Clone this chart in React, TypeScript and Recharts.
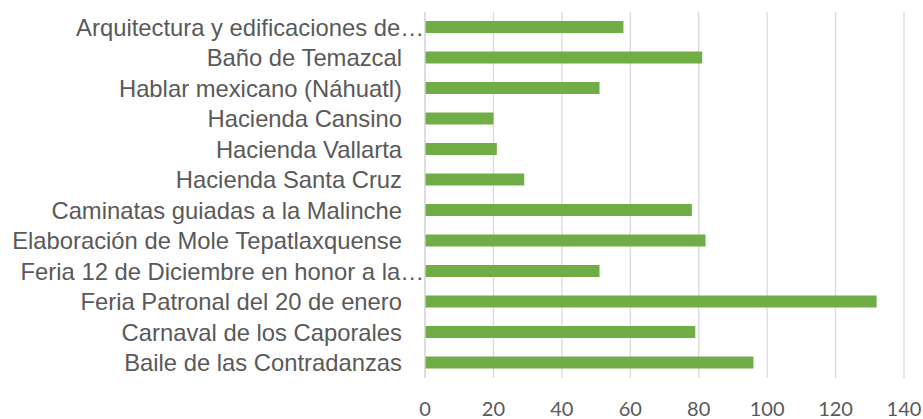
import React from "react";
import { BarChart, Bar, XAxis, YAxis, CartesianGrid } from "recharts";

const categories = [
  "Arquitectura y edificaciones de…",
  "Baño de Temazcal",
  "Hablar mexicano (Náhuatl)",
  "Hacienda Cansino",
  "Hacienda Vallarta",
  "Hacienda Santa Cruz",
  "Caminatas guiadas a la Malinche",
  "Elaboración de Mole Tepatlaxquense",
  "Feria 12 de Diciembre en honor a la…",
  "Feria Patronal del 20 de enero",
  "Carnaval de los Caporales",
  "Baile de las Contradanzas",
];
const values = [58, 81, 51, 20, 21, 29, 78, 82, 51, 132, 79, 96];
const xTicks = [0, 20, 40, 60, 80, 100, 120, 140];

const data = categories.map((name, i) => ({ name, value: values[i] }));

const YTick = (props: any) => {
  const { x, y, payload } = props;
  const label: string = payload.value;
  const off = label.endsWith("…") ? -1 : 21;
  return (
    <text
      x={x - off}
      y={y}
      dy="0.36em"
      textAnchor="end"
      fontSize={23.8}
      fill="#595959"
      fontFamily="'Liberation Sans', Arial, sans-serif"
    >
      {label}
    </text>
  );
};

export default function App() {
  return (
    <div style={{ position: "absolute", left: 0, top: 0, width: 923, height: 419, background: "#fff" }}>
      <BarChart
        width={923}
        height={419}
        data={data}
        layout="vertical"
        margin={{ top: 12, right: 19, bottom: 0, left: 0 }}
        barSize={12}
      >
        <CartesianGrid horizontal={false} vertical={true} stroke="#d9d9d9" strokeWidth={1.3} />
        <XAxis
          type="number"
          domain={[0, 140]}
          ticks={xTicks}
          interval={0}
          axisLine={false}
          tickLine={false}
          tickSize={0}
          tickMargin={24}
          height={41}
          tick={{ fontSize: 20, fill: "#595959", fontFamily: "Lato, 'Open Sans', sans-serif" }}
        />
        <YAxis
          type="category"
          dataKey="name"
          width={425}
          interval={0}
          axisLine={{ stroke: "#d9d9d9", strokeWidth: 1.3 }}
          tickLine={false}
          tickSize={0}
          tick={<YTick />}
        />
        <Bar dataKey="value" fill="#70ad47" isAnimationActive={false} />
      </BarChart>
    </div>
  );
}
